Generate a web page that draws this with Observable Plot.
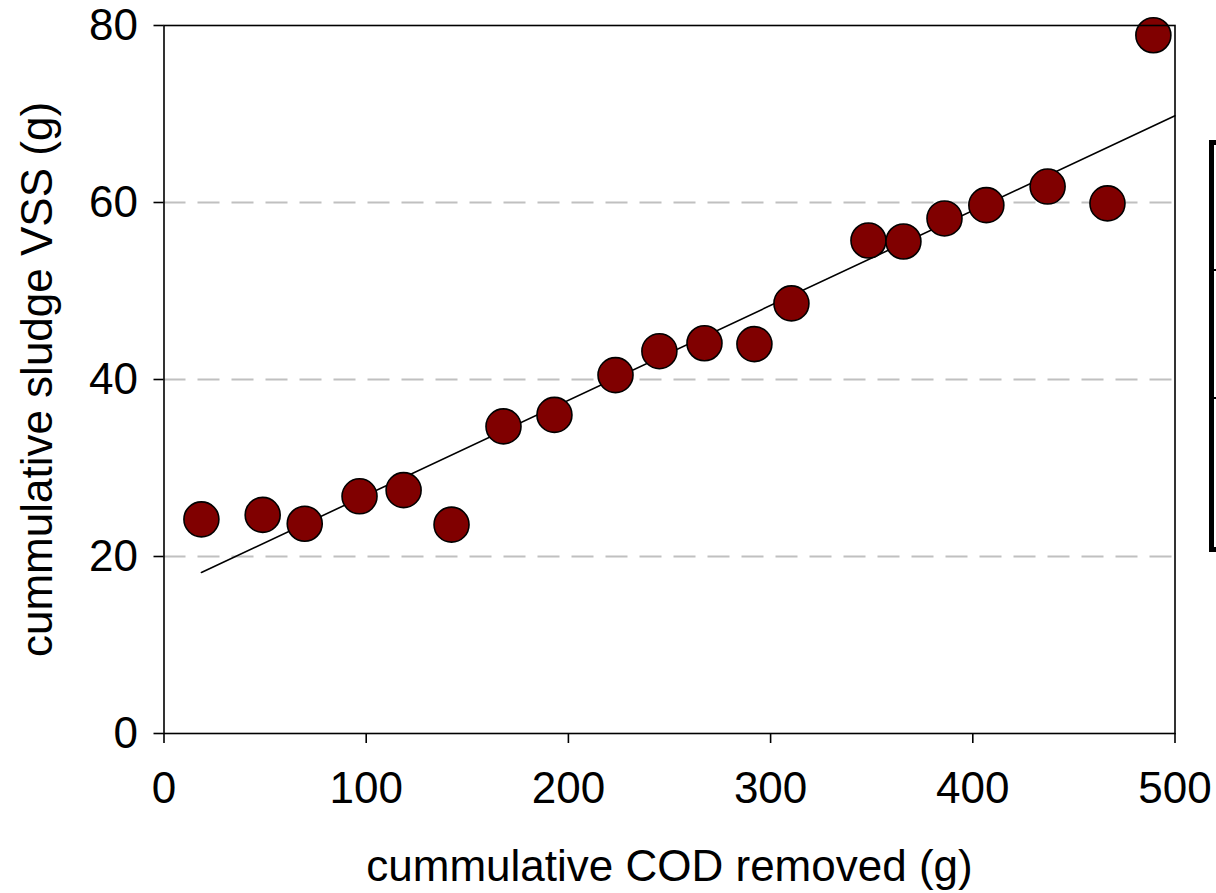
<!DOCTYPE html>
<html>
<head>
<meta charset="utf-8">
<script src="https://cdn.jsdelivr.net/npm/d3@7"></script>
<script src="https://cdn.jsdelivr.net/npm/@observablehq/plot@0.6"></script>
<style>
  html, body { margin: 0; padding: 0; background: #fff; }
  #wrap { position: relative; width: 1216px; height: 893px; overflow: hidden; }
  #legendbox { position: absolute; left: 1209px; top: 140px; width: 30px; height: 402px; border: 5px solid #000; box-sizing: content-box; }
  .lmark { position: absolute; left: 1214px; width: 3px; height: 2px; background: #000; }
</style>
</head>
<body>
<div id="wrap"></div>
<script>
// data
const codRemoved = [18.5, 48.8, 69.6, 96.7, 118.5, 142.2, 167.9, 193.1, 223.3, 245.0, 267.3, 292.0, 310.3, 348.4, 365.7, 386.0, 406.7, 437.0, 466.6, 489.3];
const sludgeVSS  = [24.2, 24.7, 23.7, 26.8, 27.5, 23.6, 34.7, 36.0, 40.5, 43.2, 44.1, 44.0, 48.6, 55.7, 55.6, 58.2, 59.7, 61.8, 59.9, 78.9];
const trendX = [18.5, 500];
const trendY = [18.2, 69.8];
const xTicks = [0, 100, 200, 300, 400, 500];
const yTicks = [0, 20, 40, 60, 80];
const gridTicks = [20, 40, 60];
const xLabel = "cummulative COD removed (g)";
const yLabel = "cummulative sludge VSS (g)";

const points = codRemoved.map((x, i) => ({x, y: sludgeVSS[i]}));
const trend = trendX.map((x, i) => ({x, y: trendY[i]}));

const font = "'Liberation Sans', Arial, sans-serif";
const fs = 44;

const chart = Plot.plot({
  width: 1216,
  height: 893,
  marginLeft: 163.5,
  marginRight: 41.5,
  marginTop: 25,
  marginBottom: 160,
  style: {fontFamily: font, fontSize: fs + "px", color: "#000", background: "#fff"},
  x: {domain: [0, 500]},
  y: {domain: [0, 80]},
  marks: [
    Plot.gridY(gridTicks, {stroke: "#c0c0c0", strokeOpacity: 1, strokeWidth: 2, strokeDasharray: "22,12"}),
    Plot.line(trend, {x: "x", y: "y", stroke: "#000", strokeWidth: 1.6}),
    Plot.dot(points, {x: "x", y: "y", r: 17.5, fill: "#800000", stroke: "#000", strokeWidth: 1.6}),
    Plot.frame({stroke: "#000", strokeWidth: 1.6}),
    Plot.axisX({ticks: xTicks, tickSize: 10, tickPadding: 28, fontSize: fs, label: null, tickFormat: d => String(d), strokeWidth: 1.6}),
    Plot.axisY({ticks: yTicks, tickSize: 10, tickPadding: 16, fontSize: fs, label: null, tickFormat: d => String(d), strokeWidth: 1.6}),
    Plot.text([xLabel], {frameAnchor: "bottom", dy: 133, text: d => d, fontSize: fs, lineAnchor: "middle", textAnchor: "middle", fill: "#000"}),
    Plot.text([yLabel], {frameAnchor: "left", dx: -126, rotate: -90, text: d => d, fontSize: fs, lineAnchor: "middle", textAnchor: "middle", fill: "#000"})
  ]
});

const wrap = document.getElementById("wrap");
wrap.appendChild(chart);
const box = document.createElement("div");
box.id = "legendbox";
wrap.appendChild(box);
[269, 397].forEach(t => {
  const m = document.createElement("div");
  m.className = "lmark";
  m.style.top = t + "px";
  wrap.appendChild(m);
});
</script>
</body>
</html>
